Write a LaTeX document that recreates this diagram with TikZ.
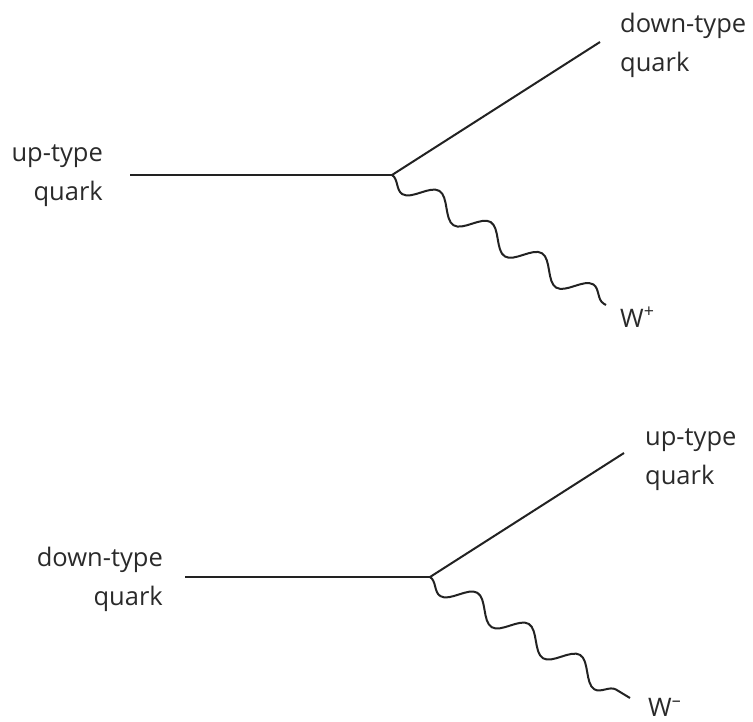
\documentclass[tikz,border=0pt]{standalone}
\usepackage{fontspec}
\setmainfont{Open Sans}
\usetikzlibrary{decorations.pathmorphing}
\definecolor{ink}{HTML}{222222}
\definecolor{txt}{HTML}{2A2A2A}
\begin{document}
\begin{tikzpicture}[x=1pt,y=-1pt,
  fermion/.style={draw=ink,line width=2pt},
  boson/.style={draw=ink,line width=2pt,decorate,
    decoration={snake,mirror,segment length=60pt,amplitude=11pt}},
  lbl/.style={inner sep=0pt,text=txt,font=\fontsize{25.5}{39}\selectfont}]
\useasboundingbox (0,0) rectangle (753,721);
% top diagram
\coordinate (a1) at (130,175);
\coordinate (v1) at (392,175);
\coordinate (b1) at (600,42);
\coordinate (w1) at (606,305);
\draw[fermion] (a1) -- (v1);
\draw[fermion] (v1) -- (b1);
\draw[boson] (v1) -- (w1);
\node[lbl,align=right,anchor=base east] (l1) at (103,200) {up-type\\quark};
\node[lbl,align=left,anchor=base west] (r1) at (620,71) {down-type\\quark};
\node[lbl,anchor=base west] (W1) at (620,327) {W\textsuperscript{+}};
% bottom diagram
\coordinate (a2) at (185,577);
\coordinate (v2) at (430,577);
\coordinate (b2) at (624,453);
\coordinate (w2) at (630,698);
\draw[fermion] (a2) -- (v2);
\draw[fermion] (v2) -- (b2);
\draw[boson] (v2) -- (w2);
\node[lbl,align=right,anchor=base east] (l2) at (163,605) {down-type\\quark};
\node[lbl,align=left,anchor=base west] (r2) at (645,484) {up-type\\quark};
\node[lbl,anchor=base west] (W2) at (648,716) {W\textsuperscript{–}};
\end{tikzpicture}
\end{document}
